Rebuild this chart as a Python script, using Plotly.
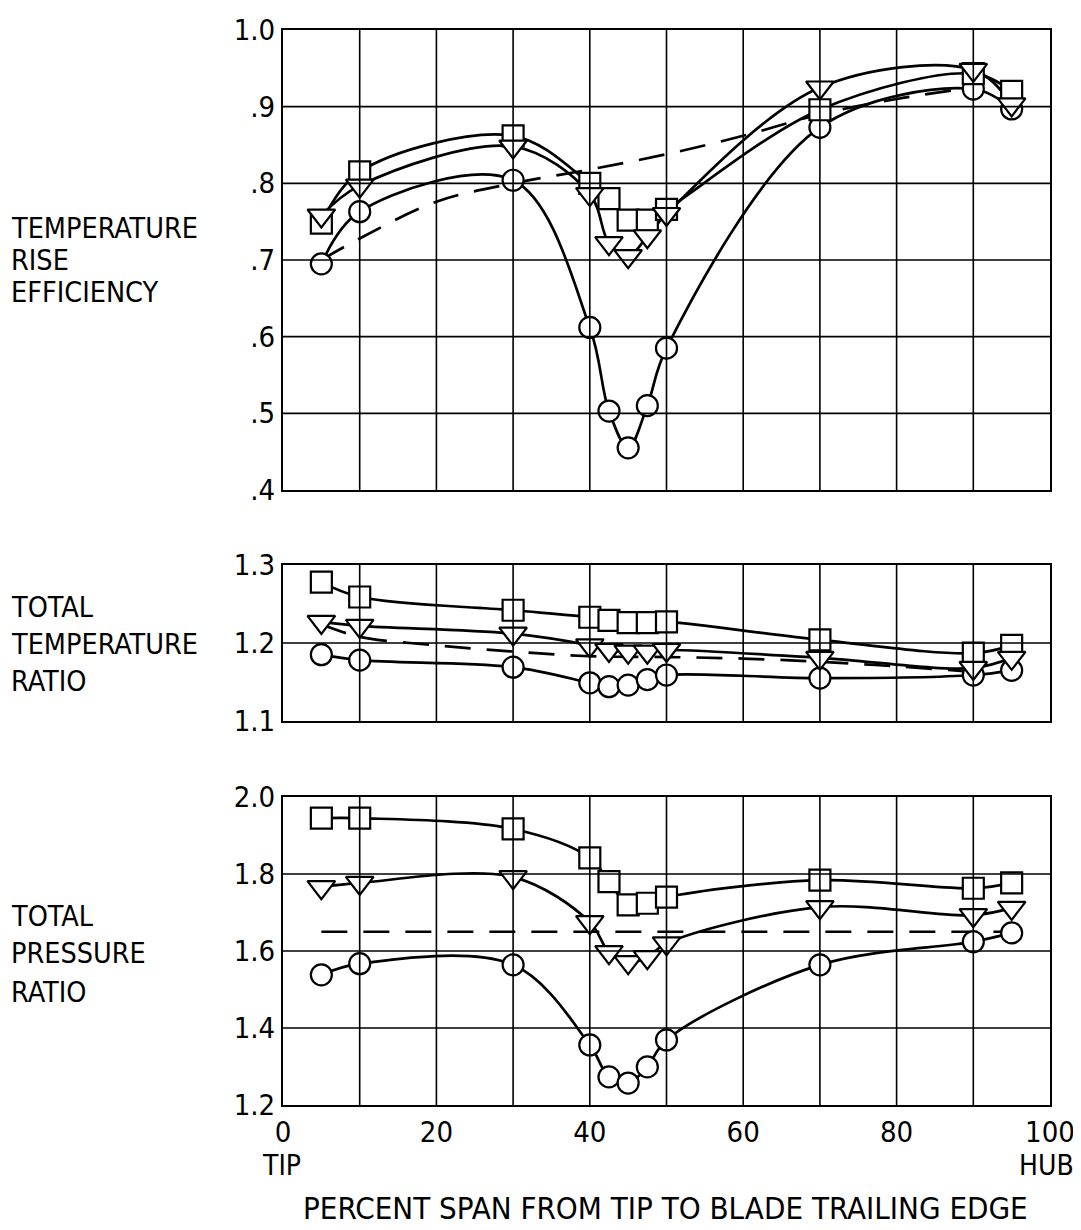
import plotly.graph_objects as go

# ---------------- data ----------------
span_pct = [5, 10, 30, 40, 42.5, 45, 47.5, 50, 70, 90, 95]

eff_circle = [0.695, 0.763, 0.804, 0.612, 0.503, 0.455, 0.510, 0.585, 0.873, 0.923, 0.897]
eff_square = [0.748, 0.815, 0.862, 0.800, 0.780, 0.752, 0.752, 0.766, 0.896, 0.943, 0.920]
eff_tri = [0.758, 0.797, 0.848, 0.786, 0.722, 0.705, 0.731, 0.760, 0.925, 0.948, 0.903]
eff_design_x = [5, 10, 20, 30, 40, 50, 60, 70, 80, 90]
eff_design_y = [0.700, 0.728, 0.776, 0.800, 0.818, 0.838, 0.862, 0.890, 0.910, 0.925]

ttr_circle = [1.185, 1.178, 1.169, 1.149, 1.144, 1.146, 1.153, 1.159, 1.155, 1.159, 1.165]
ttr_square = [1.278, 1.259, 1.242, 1.233, 1.229, 1.226, 1.226, 1.227, 1.204, 1.187, 1.197]
ttr_tri = [1.227, 1.222, 1.212, 1.197, 1.191, 1.189, 1.189, 1.191, 1.181, 1.168, 1.181]
ttr_design_x = [5, 10, 20, 30, 40, 50, 60, 70, 80, 90]
ttr_design_y = [1.224, 1.208, 1.197, 1.189, 1.183, 1.182, 1.180, 1.176, 1.170, 1.163]

tpr_circle = [1.538, 1.567, 1.564, 1.356, 1.273, 1.257, 1.299, 1.369, 1.564, 1.624, 1.647]
tpr_square = [1.945, 1.945, 1.917, 1.842, 1.780, 1.720, 1.724, 1.740, 1.784, 1.763, 1.777]
tpr_tri = [1.766, 1.777, 1.792, 1.675, 1.597, 1.571, 1.584, 1.620, 1.714, 1.693, 1.712]
tpr_design_x = [5, 98]
tpr_design_y = [1.65, 1.65]

x_ticks = [0, 20, 40, 60, 80, 100]
x_grid = [10, 20, 30, 40, 50, 60, 70, 80, 90]
eff_ticks = [0.4, 0.5, 0.6, 0.7, 0.8, 0.9, 1.0]
eff_ticktext = [".4", ".5", ".6", ".7", ".8", ".9", "1.0"]
ttr_ticks = [1.1, 1.2, 1.3]
ttr_ticktext = ["1.1", "1.2", "1.3"]
tpr_ticks = [1.2, 1.4, 1.6, 1.8, 2.0]
tpr_ticktext = ["1.2", "1.4", "1.6", "1.8", "2.0"]

FONT = "DejaVu Sans Condensed, Liberation Sans Narrow, DejaVu Sans, sans-serif"

# the page body adds an 8 px margin; size and place the figure to compensate
OFF = 8
W, H = 1081 - OFF, 1230 - OFF
X0, X1 = 283 - OFF, 1050 - OFF
panels = [
    # (axis suffix, top px, bottom px) in the reference's pixels
    ("", 30, 490),
    ("2", 565, 721),
    ("3", 797, 1105),
]

fig = go.Figure()

series = [
    (eff_circle, eff_square, eff_tri, eff_design_x, eff_design_y),
    (ttr_circle, ttr_square, ttr_tri, ttr_design_x, ttr_design_y),
    (tpr_circle, tpr_square, tpr_tri, tpr_design_x, tpr_design_y),
]

LW = 2.7
for (suf, _, _), (circ, sq, tri, dx, dy) in zip(panels, series):
    xa, ya = "x" + suf, "y" + suf
    for ys in (circ, sq, tri):
        fig.add_trace(go.Scatter(x=span_pct, y=ys, mode="lines", xaxis=xa, yaxis=ya,
                                 line=dict(color="black", width=LW, shape="spline", smoothing=1.0),
                                 showlegend=False, hoverinfo="skip"))
    fig.add_trace(go.Scatter(x=dx, y=dy, mode="lines", xaxis=xa, yaxis=ya,
                             line=dict(color="black", width=LW, dash="26px,16px", shape="spline"),
                             showlegend=False, hoverinfo="skip"))
    for ys, sym in ((circ, "circle"), (sq, "square"), (tri, "triangle-down")):
        fig.add_trace(go.Scatter(x=span_pct, y=ys, mode="markers", xaxis=xa, yaxis=ya,
                                 marker=dict(symbol=sym, size=21 if sym != "triangle-down" else 24,
                                             color="white", line=dict(color="black", width=2.2)),
                                 showlegend=False))

# grid lines drawn above the markers (as in the original print)
shapes = []
grid_y = {"": [0.5, 0.6, 0.7, 0.8, 0.9], "2": [1.2], "3": [1.4, 1.6, 1.8]}
for suf, _, _ in panels:
    for gx in x_grid:
        shapes.append(dict(type="line", xref="x" + suf, yref="y" + suf + " domain",
                           x0=gx, x1=gx, y0=0, y1=1, layer="above",
                           line=dict(color="black", width=1.6)))
    for gy in grid_y[suf]:
        shapes.append(dict(type="line", xref="x" + suf + " domain", yref="y" + suf,
                           x0=0, x1=1, y0=gy, y1=gy, layer="above",
                           line=dict(color="black", width=1.6)))

layout = dict(width=W, height=H, margin=dict(l=0, r=0, t=0, b=0, autoexpand=False),
              template="none", autosize=False,
              paper_bgcolor="white", plot_bgcolor="white", shapes=shapes,
              font=dict(family=FONT, color="black"))

xdom = [X0 / W, X1 / W]
yranges = {"": [0.4, 1.0], "2": [1.1, 1.3], "3": [1.2, 2.0]}
yticks = {"": (eff_ticks, eff_ticktext), "2": (ttr_ticks, ttr_ticktext), "3": (tpr_ticks, tpr_ticktext)}
for suf, top, bot in panels:
    top, bot = top - OFF, bot - OFF
    layout["xaxis" + suf] = dict(domain=xdom, range=[0, 100], anchor="y" + suf,
                                 automargin=False, ticklabeloverflow="allow",
                                 showgrid=False, zeroline=False, showline=True, mirror=True,
                                 linecolor="black", linewidth=2, layer="above traces",
                                 tickvals=x_ticks, ticks="",
                                 showticklabels=(suf == "3"),
                                 tickfont=dict(size=29, family=FONT))
    tv, tt = yticks[suf]
    layout["yaxis" + suf] = dict(domain=[(H - bot) / H, (H - top) / H], range=yranges[suf],
                                 anchor="x" + suf, automargin=False, showgrid=False,
                                 zeroline=False, ticklabeloverflow="allow",
                                 showline=True, mirror=True, linecolor="black", linewidth=2,
                                 layer="above traces", tickvals=tv, ticktext=tt, ticks="",
                                 tickfont=dict(size=29, family=FONT))

fig.update_layout(**layout)

def label(text, x, y, size=28.5, xanchor="left"):
    fig.add_annotation(text=text, xref="paper", yref="paper",
                       x=(x - OFF) / W, y=1 - (y - OFF) / H,
                       xanchor=xanchor, yanchor="middle", showarrow=False,
                       font=dict(size=size, family=FONT, color="black"))

for txt, yy in (("TEMPERATURE", 228), ("RISE", 260), ("EFFICIENCY", 293),
                ("TOTAL", 607), ("TEMPERATURE", 644), ("RATIO", 681),
                ("TOTAL", 916), ("PRESSURE", 954), ("RATIO", 992)):
    label(txt, 9, yy)

label("TIP", 281, 1165, size=28, xanchor="center")
label("HUB", 1046, 1165, size=28, xanchor="center")
label("PERCENT SPAN FROM TIP TO BLADE TRAILING EDGE", 665, 1208, size=31, xanchor="center")

fig.write_html("out.html")
